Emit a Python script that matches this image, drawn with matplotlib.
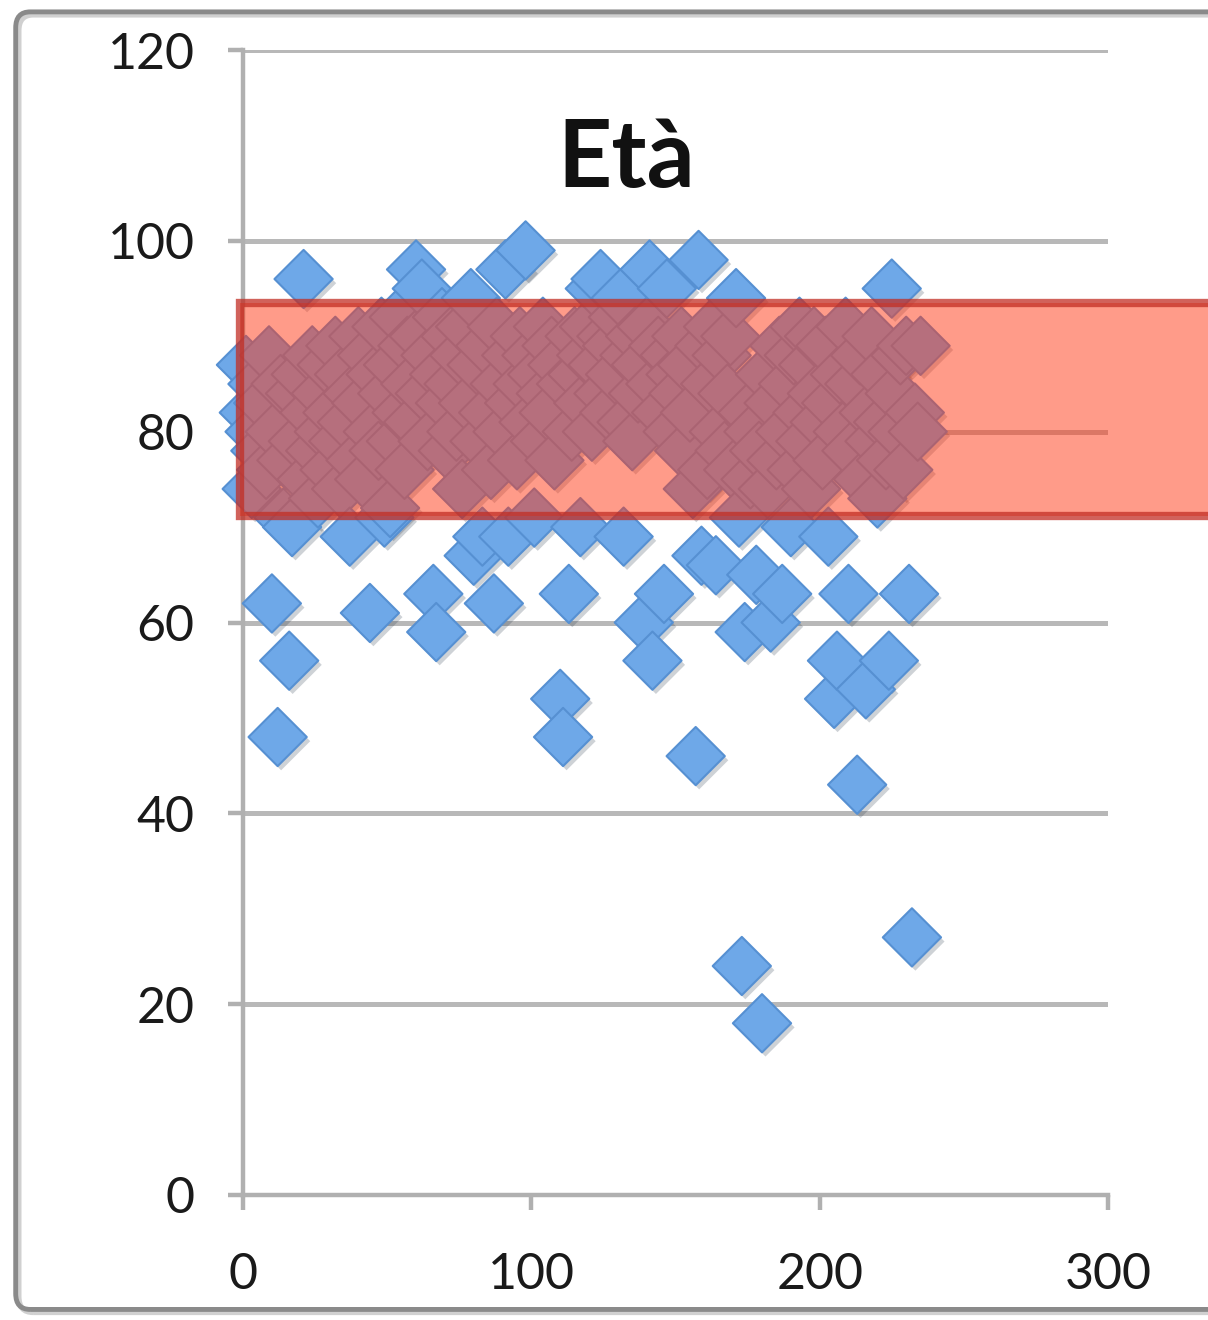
import matplotlib.pyplot as plt
import matplotlib.patheffects as pe
from matplotlib.patches import Rectangle, FancyBboxPatch

plt.rcParams['font.family'] = ['Lato', 'DejaVu Sans']

# patient number vs age
ages = [
    87, 82, 74, 80, 85, 78, 83, 76, 88, 62,
    80, 48, 85, 71, 77, 56, 70, 84, 79, 86,
    96, 75, 82, 88, 78, 73, 84, 80, 87, 76,
    82, 89, 79, 74, 86, 81, 69, 84, 77, 90,
    83, 75, 88, 61, 80, 86, 78, 91, 71, 84,
    72, 87, 79, 92, 82, 76, 89, 85, 81, 97,
    90, 95, 84, 79, 88, 63, 59, 86, 92, 83,
    78, 90, 85, 80, 88, 74, 91, 83, 94, 67,
    87, 79, 69, 89, 82, 76, 62, 91, 85, 80,
    97, 69, 88, 83, 77, 90, 85, 99, 81, 88,
    71, 86, 79, 91, 84, 82, 89, 77, 87, 52,
    48, 85, 63, 80, 90, 86, 70, 83, 88, 91,
    80, 95, 87, 96, 84, 90, 82, 89, 86, 92,
    94, 69, 81, 88, 79, 90, 84, 87, 60, 91,
    97, 56, 85, 89, 82, 63, 95, 88, 80, 86,
    84, 90, 78, 87, 82, 74, 46, 98, 67, 89,
    76, 85, 91, 66, 80, 88, 78, 84, 90, 76,
    94, 71, 24, 59, 82, 75, 80, 65, 78, 18,
    86, 74, 60, 83, 77, 89, 63, 80, 85, 70,
    88, 76, 91, 82, 79, 87, 74, 90, 84, 81,
    77, 89, 69, 83, 52, 56, 86, 80, 91, 63,
    78, 85, 43, 88, 75, 53, 82, 90, 79, 73,
    86, 81, 77, 56, 95, 84, 80, 88, 76, 89,
    63, 27, 82, 80, 89,
]
patients = list(range(1, len(ages) + 1))

band_low = 71.2
band_high = 93.5

x_ticks = [0, 100, 200, 300]
y_ticks = [0, 20, 40, 60, 80, 100, 120]

fig = plt.figure(figsize=(12.08, 13.2), dpi=100)
fig.patch.set_facecolor('white')

# chart frame with a soft offset shadow
shadow = FancyBboxPatch((0.0155, 0.0058), 1.2, 0.983,
                        boxstyle='round,pad=0,rounding_size=0.012',
                        transform=fig.transFigure, facecolor='none',
                        edgecolor='#d0d0d0', linewidth=4, zorder=-2)
frame = FancyBboxPatch((0.013, 0.008), 1.2, 0.983,
                       boxstyle='round,pad=0,rounding_size=0.012',
                       transform=fig.transFigure, facecolor='none',
                       edgecolor='#8a8a8a', linewidth=3.5, zorder=-1)
fig.patches.extend([shadow, frame])

ax = fig.add_axes([0.2012, 0.0947, 0.716, 0.8674])
ax.set_facecolor('none')
ax.set_xlim(0, 300)
ax.set_ylim(0, 120)

for s in ['top', 'right']:
    ax.spines[s].set_visible(False)
for s in ['left', 'bottom']:
    ax.spines[s].set_color('#b0b0b0')
    ax.spines[s].set_linewidth(3.2)

ax.set_xticks(x_ticks)
ax.set_yticks(y_ticks)
ax.yaxis.grid(True, color='#b8b8b8', linewidth=3.6)
ax.set_axisbelow(True)
ax.tick_params(axis='both', direction='out', length=11, width=3.2,
               color='#b0b0b0', labelsize=36, labelcolor='#1a1a1a')
ax.tick_params(axis='y', pad=24)
ax.tick_params(axis='x', pad=30)

ax.scatter(patients, ages, marker='D', s=880, facecolor='#6ea8e8',
           edgecolor='#5690d2', linewidth=1.5, zorder=3, clip_on=False,
           path_effects=[pe.SimplePatchShadow(offset=(2.5, -3), alpha=0.22),
                         pe.Normal()])

# highlighted age band
band = Rectangle((-1, band_low), 345, band_high - band_low,
                 facecolor=(1.0, 0.22, 0.08, 0.5),
                 edgecolor=(0.76, 0.18, 0.14, 0.75), linewidth=6,
                 zorder=5, clip_on=False)
ax.add_patch(band)

ax.text(133, 108.5, 'Età', ha='center', va='center', fontsize=68,
        fontweight='bold', color='#111111', zorder=6)

fig.savefig('out.png', dpi=100)
